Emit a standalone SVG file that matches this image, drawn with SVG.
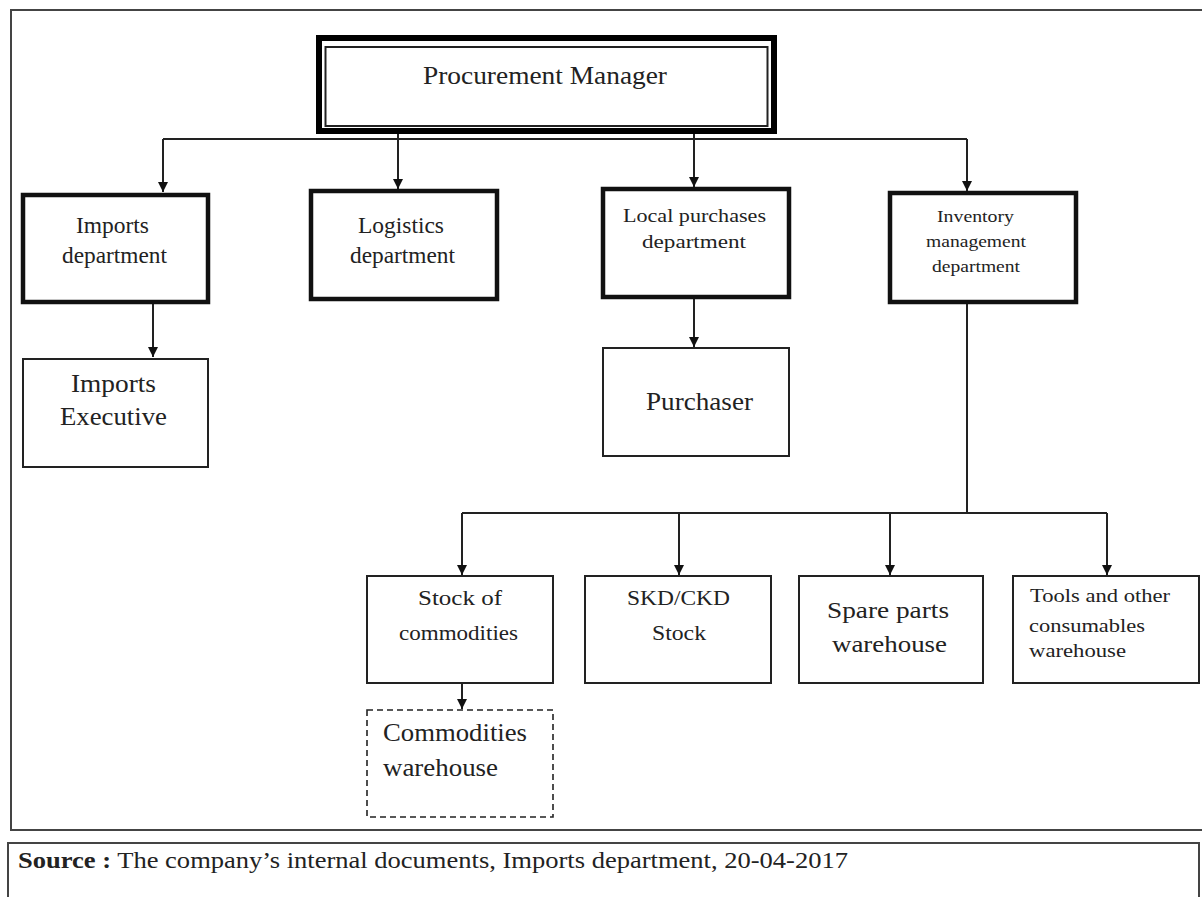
<svg xmlns="http://www.w3.org/2000/svg" width="1202" height="897" viewBox="0 0 1202 897">
<style>
text{font-family:"Liberation Serif","Times New Roman",serif;fill:#222;text-anchor:start}
.thick{fill:#fff;stroke:#111;stroke-width:4.5}
.thin{fill:#fff;stroke:#222;stroke-width:2}
.dash{fill:#fff;stroke:#222;stroke-width:1.6;stroke-dasharray:6,4}
.conn{fill:none;stroke:#222;stroke-width:2}
</style>
<defs>
<marker id="arr" viewBox="0 0 10 10" refX="10" refY="5" markerWidth="10" markerHeight="10" markerUnits="userSpaceOnUse" orient="auto">
<path d="M0,0 L10,5 L0,10 Z" fill="#111"/>
</marker>
</defs>
<rect width="1202" height="897" fill="#fff"/>
<rect x="11" y="10" width="1195" height="820" fill="none" stroke="#444" stroke-width="2"/>
<rect x="8" y="843" width="1191" height="60" fill="none" stroke="#444" stroke-width="2"/>

<g id="connectors">
<path class="conn" d="M163,139 H967"/>
<path class="conn" d="M163,139 V192" marker-end="url(#arr)"/>
<path class="conn" d="M398,133 V189" marker-end="url(#arr)"/>
<path class="conn" d="M694,133 V187" marker-end="url(#arr)"/>
<path class="conn" d="M967,139 V191" marker-end="url(#arr)"/>
<path class="conn" d="M153,304 V357" marker-end="url(#arr)"/>
<path class="conn" d="M694,299 V347" marker-end="url(#arr)"/>
<path class="conn" d="M967,304 V513"/>
<path class="conn" d="M462,513 H1107"/>
<path class="conn" d="M462,513 V575" marker-end="url(#arr)"/>
<path class="conn" d="M679,513 V575" marker-end="url(#arr)"/>
<path class="conn" d="M890,513 V575" marker-end="url(#arr)"/>
<path class="conn" d="M1107,513 V575" marker-end="url(#arr)"/>
<path class="conn" d="M462,684 V709" marker-end="url(#arr)"/>
</g>

<g id="procurement-manager">
<rect x="319" y="38" width="455" height="93" fill="#fff" stroke="#000" stroke-width="6"/>
<rect x="325.5" y="47" width="442" height="79" fill="none" stroke="#222" stroke-width="2"/>
<text x="423" y="84" font-size="26" textLength="244" lengthAdjust="spacingAndGlyphs">Procurement Manager</text>
</g>

<g id="imports-department">
<rect class="thick" x="23" y="195" width="185" height="107"/>
<text x="76" y="233" font-size="23" textLength="73" lengthAdjust="spacingAndGlyphs">Imports</text>
<text x="62" y="263" font-size="23" textLength="105" lengthAdjust="spacingAndGlyphs">department</text>
</g>

<g id="logistics-department">
<rect class="thick" x="311" y="191" width="186" height="108"/>
<text x="358" y="233" font-size="23" textLength="86" lengthAdjust="spacingAndGlyphs">Logistics</text>
<text x="350" y="263" font-size="23" textLength="105" lengthAdjust="spacingAndGlyphs">department</text>
</g>

<g id="local-purchases-department">
<rect class="thick" x="603" y="189" width="186" height="108"/>
<text x="623" y="222" font-size="19" textLength="143" lengthAdjust="spacingAndGlyphs">Local purchases</text>
<text x="642" y="248" font-size="19" textLength="104" lengthAdjust="spacingAndGlyphs">department</text>
</g>

<g id="inventory-management-department">
<rect class="thick" x="890" y="193" width="186" height="109"/>
<text x="937" y="222" font-size="16" textLength="77" lengthAdjust="spacingAndGlyphs">Inventory</text>
<text x="926" y="247" font-size="16" textLength="100" lengthAdjust="spacingAndGlyphs">management</text>
<text x="932" y="272" font-size="16" textLength="88" lengthAdjust="spacingAndGlyphs">department</text>
</g>

<g id="imports-executive">
<rect class="thin" x="23" y="359" width="185" height="108"/>
<text x="71" y="392" font-size="25" textLength="85" lengthAdjust="spacingAndGlyphs">Imports</text>
<text x="60" y="425" font-size="25" textLength="107" lengthAdjust="spacingAndGlyphs">Executive</text>
</g>

<g id="purchaser">
<rect class="thin" x="603" y="348" width="186" height="108"/>
<text x="646" y="410" font-size="25" textLength="107" lengthAdjust="spacingAndGlyphs">Purchaser</text>
</g>

<g id="stock-of-commodities">
<rect class="thin" x="367" y="576" width="186" height="107"/>
<text x="418" y="605" font-size="22" textLength="84" lengthAdjust="spacingAndGlyphs">Stock of</text>
<text x="399" y="640" font-size="22" textLength="119" lengthAdjust="spacingAndGlyphs">commodities</text>
</g>

<g id="skd-ckd-stock">
<rect class="thin" x="585" y="576" width="186" height="107"/>
<text x="627" y="605" font-size="22" textLength="103" lengthAdjust="spacingAndGlyphs">SKD/CKD</text>
<text x="652" y="640" font-size="22" textLength="54" lengthAdjust="spacingAndGlyphs">Stock</text>
</g>

<g id="spare-parts-warehouse">
<rect class="thin" x="799" y="576" width="184" height="107"/>
<text x="827" y="618" font-size="24" textLength="122" lengthAdjust="spacingAndGlyphs">Spare parts</text>
<text x="832" y="652" font-size="24" textLength="115" lengthAdjust="spacingAndGlyphs">warehouse</text>
</g>

<g id="tools-warehouse">
<rect class="thin" x="1013" y="576" width="186" height="107"/>
<text x="1030" y="602" font-size="19" textLength="140" lengthAdjust="spacingAndGlyphs">Tools and other</text>
<text x="1029" y="632" font-size="19" textLength="116" lengthAdjust="spacingAndGlyphs">consumables</text>
<text x="1029" y="657" font-size="19" textLength="97" lengthAdjust="spacingAndGlyphs">warehouse</text>
</g>

<g id="commodities-warehouse">
<rect class="dash" x="367" y="710" width="186" height="107"/>
<text x="383" y="741" font-size="25" textLength="144" lengthAdjust="spacingAndGlyphs">Commodities</text>
<text x="383" y="776" font-size="25" textLength="115" lengthAdjust="spacingAndGlyphs">warehouse</text>
</g>

<g id="source">
<text x="18" y="868" font-size="24" textLength="830" lengthAdjust="spacingAndGlyphs"><tspan font-weight="bold">Source :</tspan> The company’s internal documents, Imports department, 20-04-2017</text>
</g>
</svg>
